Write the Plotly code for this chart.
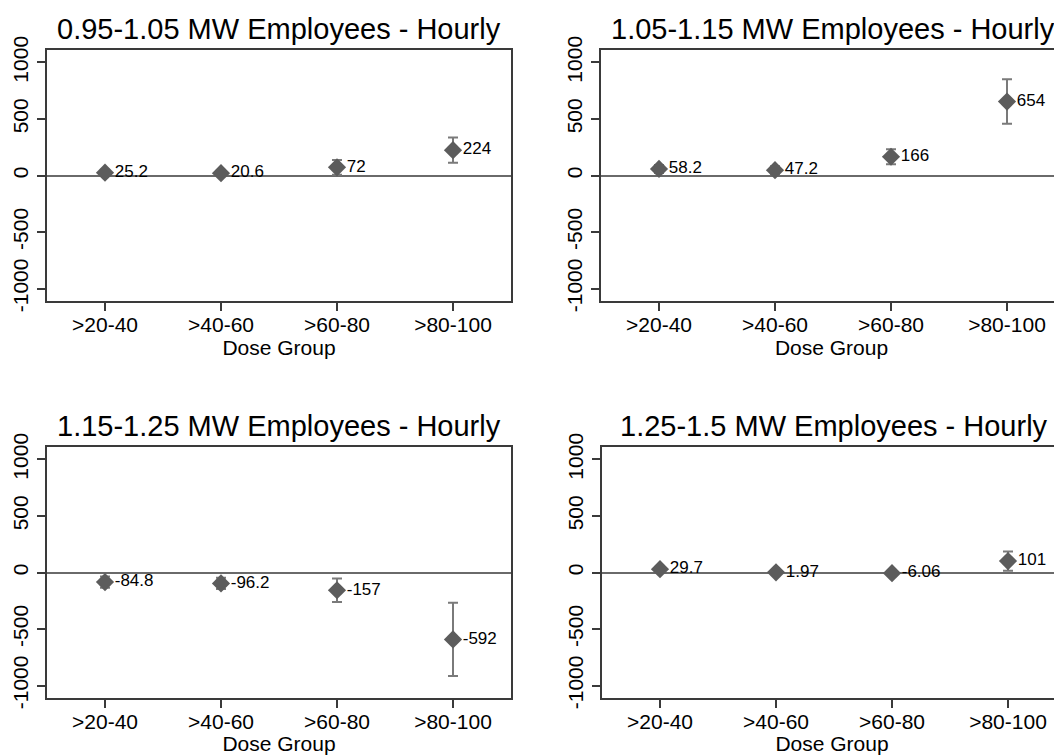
import plotly.graph_objects as go

# ---- data ----
categories = [">20-40", ">40-60", ">60-80", ">80-100"]
titles = [
    "0.95-1.05 MW Employees - Hourly",
    "1.05-1.15 MW Employees - Hourly",
    "1.15-1.25 MW Employees - Hourly",
    "1.25-1.5 MW Employees - Hourly",
]
est_095_105 = [25.2, 20.6, 72, 224]
err_095_105 = [25, 25, 66, 112]
est_105_115 = [58.2, 47.2, 166, 654]
err_105_115 = [35, 35, 66, 197]
est_115_125 = [-84.8, -96.2, -157, -592]
err_115_125 = [50, 50, 103, 324]
est_125_150 = [29.7, 1.97, -6.06, 101]
err_125_150 = [25, 25, 25, 85]
y_ticks = [-1000, -500, 0, 500, 1000]
x_label = "Dose Group"

estimates = [est_095_105, est_105_115, est_115_125, est_125_150]
errors = [err_095_105, err_105_115, err_115_125, err_125_150]

# page body has an 8px default margin: the figure starts at (8, 8)
OFF = 8
W, H = 1062 - OFF, 755 - OFF
FONT = "Liberation Sans, Arial, Helvetica, sans-serif"
MARKER_C = "#5c5c5c"
ERR_C = "#7a7a7a"
FRAME_C = "#3a3a3a"
ZERO_C = "#6a6a6a"

# panel boxes in screen pixels: (left, right, top, bottom)
boxes = [
    (47, 511, 50, 301),
    (601, 1062, 50, 301),
    (47, 511, 447, 698),
    (602, 1062, 447, 698),
]
unit_px = 116.0
yr = [-1110, 1110]

fig = go.Figure()
layout = dict(
    width=W, height=H,
    margin=dict(l=0, r=0, t=0, b=0),
    paper_bgcolor="white", plot_bgcolor="white",
    showlegend=False,
    font=dict(family=FONT, color="black"),
    annotations=[],
)

xpos = list(range(1, len(categories) + 1))

for i in range(4):
    l, r, t, b = boxes[i]
    l, r, t, b = l - OFF, r - OFF, t - OFF, b - OFF
    xa = "x" if i == 0 else f"x{i+1}"
    ya = "y" if i == 0 else f"y{i+1}"
    xkey = "xaxis" if i == 0 else f"xaxis{i+1}"
    ykey = "yaxis" if i == 0 else f"yaxis{i+1}"
    right_col = i in (1, 3)
    xr = [0.5, 0.5 + (r - l) / unit_px]

    fig.add_trace(go.Scatter(
        x=xpos, y=estimates[i], xaxis=xa, yaxis=ya,
        mode="markers+text",
        marker=dict(symbol="diamond", size=14, color=MARKER_C),
        error_y=dict(type="data", array=errors[i], visible=True,
                     color=ERR_C, thickness=2, width=5),
        text=[f"{v:g}" for v in estimates[i]],
        textposition="middle right",
        textfont=dict(family=FONT, size=17, color="black"),
        cliponaxis=False,
    ))

    layout[xkey] = dict(
        domain=[max(l / W, 0), min(r / W, 1.0)],
        anchor=ya, range=xr,
        tickmode="array", tickvals=xpos, ticktext=categories,
        ticks="outside", ticklen=8, tickwidth=1.5, tickcolor=FRAME_C,
        ticklabelstandoff=-4,
        showline=True, linecolor=FRAME_C, linewidth=2, mirror=True,
        showgrid=False, zeroline=False,
        tickfont=dict(family=FONT, size=21, color="black"),
        title=dict(text=x_label, font=dict(family=FONT, size=21, color="black"),
                   standoff=2),
        automargin=False, fixedrange=True,
    )
    layout[ykey] = dict(
        domain=[1 - b / H, 1 - t / H],
        anchor=xa, range=yr,
        tickmode="array", tickvals=y_ticks, ticktext=[str(v) for v in y_ticks],
        tickangle=-90,
        ticks="outside", ticklen=8, tickwidth=1.5, tickcolor=FRAME_C,
        ticklabelstandoff=1,
        showline=True, linecolor=FRAME_C, linewidth=2,
        mirror=(not right_col),
        showgrid=False,
        zeroline=True, zerolinecolor=ZERO_C, zerolinewidth=2,
        tickfont=dict(family=FONT, size=21, color="black"),
        automargin=False, fixedrange=True,
    )
    cx = (l + (l + 4 * unit_px)) / 2.0
    layout["annotations"].append(dict(
        text=titles[i], xref="paper", yref="paper",
        x=cx / W, y=1 - (t - 21) / H,
        xanchor="center", yanchor="middle", showarrow=False,
        font=dict(family=FONT, size=29, color="black"),
    ))

fig.update_layout(**layout)
fig.write_html("out.html")
